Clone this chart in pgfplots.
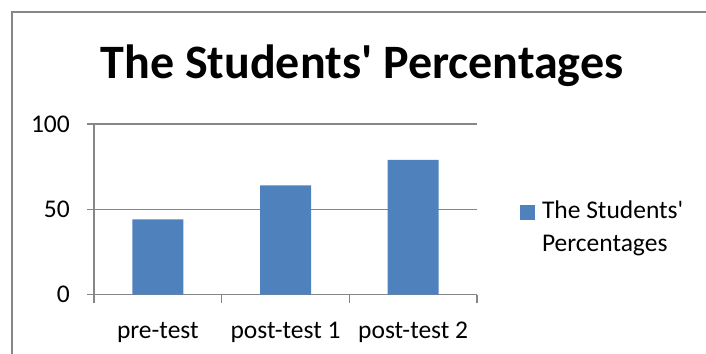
\documentclass[border=0pt]{standalone}
\usepackage{pgfplots}
\pgfplotsset{compat=1.18}
\usepackage{fontspec}
\setmainfont{Carlito}
\definecolor{bblue}{HTML}{4F81BD}
\definecolor{axgray}{HTML}{868686}
\begin{document}
\begin{tikzpicture}
\path[use as bounding box] (-94bp,-59.5bp) rectangle (612bp,294.5bp);
\begin{axis}[
  at={(0,0)}, anchor=south west,
  scale only axis, width=383bp, height=170.5bp,
  xmin=-0.5, xmax=2.5, ymin=0, ymax=100,
  ybar, bar width=51bp,
  axis lines=left,
  axis line style={-, axgray, line width=1.2bp},
  every outer x axis line/.append style={-},
  every outer y axis line/.append style={-},
  xtick={0,1,2}, xticklabels={pre-test, post-test 1, post-test 2},
  minor xtick={-0.5,0.5,1.5,2.5},
  ytick={0,50,100},
  major x tick style={draw=none},
  ymajorgrids, grid style={axgray, line width=1.2bp},
  tick align=outside, tick style={axgray, line width=1.2bp},
  major tick length=7bp, minor tick length=8bp,
  /pgf/number format/assume math mode=true,
  ticklabel style={font=\fontsize{25.5bp}{30bp}\selectfont},
  yticklabel style={inner sep=0pt, anchor=east, xshift=-17bp},
  xticklabel style={inner sep=0pt, anchor=base, yshift=-37bp},
  title={The Students\textquotesingle{} Percentages},
  title style={at={(axis description cs:0.6997,1.232)}, anchor=base, inner sep=0pt,
    font=\bfseries\fontsize{48bp}{56bp}\selectfont},
  legend style={at={(axis description cs:1.1123,0.5836)}, anchor=north west,
    draw=none, fill=none, inner sep=0pt, outer sep=0pt,
    nodes={inner sep=0pt}, column sep=7bp,
    font=\fontsize{25.5bp}{33bp}\selectfont},
  legend image code/.code={\fill[bblue] (0bp,-13bp) rectangle (15bp,2bp);},
]
\addplot[fill=bblue, draw=none] coordinates {(0,44) (1,64) (2,79)};
\addlegendentry{\begin{tabular}[t]{@{}l@{}}The Students\textquotesingle\\Percentages\end{tabular}}
\end{axis}
\draw[axgray, line width=1.5bp] (-82bp,-59.5bp) -- (-82bp,282.5bp) -- (612bp,282.5bp);
\end{tikzpicture}
\end{document}
